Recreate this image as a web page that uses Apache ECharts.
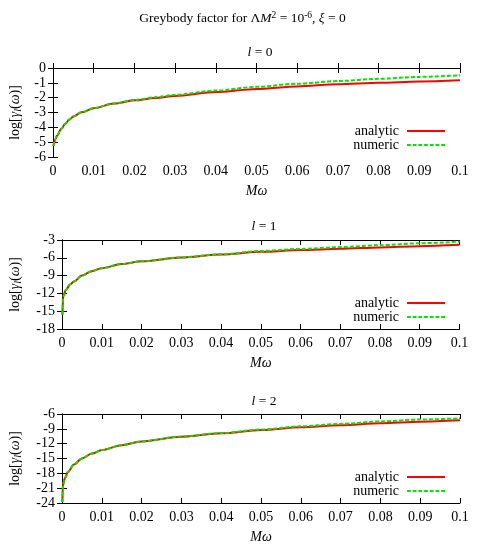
<!DOCTYPE html>
<html>
<head>
<meta charset="utf-8">
<script src="https://cdn.jsdelivr.net/npm/echarts@6/dist/echarts.min.js"></script>
<style>
  html, body { margin: 0; padding: 0; background: #fff; }
  #chart { width: 485px; height: 546px; }
</style>
</head>
<body>
<div id="chart"></div>
<script>
// values
const xTicks = [0, 0.01, 0.02, 0.03, 0.04, 0.05, 0.06, 0.07, 0.08, 0.09, 0.1];

// l = 0
const xL0 = [0.0001, 0.0005, 0.001, 0.002, 0.003, 0.004, 0.005, 0.007, 0.01, 0.015, 0.02, 0.025, 0.03, 0.04, 0.05, 0.06, 0.07, 0.08, 0.09, 0.1];
const analyticL0 = [-5.25, -4.85, -4.55, -4.12, -3.76, -3.48, -3.27, -2.99, -2.71, -2.4, -2.18, -2.02, -1.88, -1.62, -1.41, -1.24, -1.1, -1.0, -0.91, -0.83];
const numericL0 = [-5.25, -4.85, -4.55, -4.12, -3.76, -3.48, -3.27, -2.99, -2.71, -2.39, -2.16, -1.97, -1.81, -1.52, -1.27, -1.06, -0.88, -0.73, -0.6, -0.49];

// l = 1
const xL1 = [0.0001, 0.0003, 0.001, 0.002, 0.003, 0.005, 0.0075, 0.01, 0.015, 0.02, 0.03, 0.04, 0.05, 0.06, 0.07, 0.08, 0.09, 0.1];
const analyticL1 = [-15.6, -12.5, -11.4, -10.5, -10.0, -9.0, -8.25, -7.75, -7.05, -6.6, -5.95, -5.45, -5.0, -4.7, -4.48, -4.25, -4.04, -3.82];
const numericL1 = [-15.6, -12.5, -11.4, -10.5, -10.0, -9.0, -8.25, -7.75, -7.05, -6.6, -5.93, -5.4, -4.85, -4.5, -4.2, -3.88, -3.55, -3.28];

// l = 2
const xL2 = [0.0001, 0.0002, 0.0007, 0.0015, 0.003, 0.005, 0.0075, 0.01, 0.015, 0.02, 0.03, 0.04, 0.05, 0.06, 0.07, 0.08, 0.09, 0.1];
const analyticL2 = [-23.8, -20.5, -19.0, -17.7, -16.2, -15.0, -14.0, -13.3, -12.3, -11.55, -10.6, -9.9, -9.25, -8.7, -8.25, -7.85, -7.55, -7.28];
const numericL2 = [-23.8, -20.5, -19.0, -17.7, -16.2, -15.0, -14.0, -13.3, -12.3, -11.55, -10.55, -9.85, -9.15, -8.5, -8.0, -7.5, -7.12, -6.88];

const panels = [
  { l: '0', x: xL0, a: analyticL0, n: numericL0, yMin: -6, yMax: 0, yStep: 1,
    grid: { left: 50, top: 68, width: 410, height: 89 }, titleTop: 40, legendTop: 124, nameGap: 30 },
  { l: '1', x: xL1, a: analyticL1, n: numericL1, yMin: -18, yMax: -3, yStep: 3,
    grid: { left: 58.5, top: 240, width: 401, height: 89 }, titleTop: 214, legendTop: 296, nameGap: 39 },
  { l: '2', x: xL2, a: analyticL2, n: numericL2, yMin: -24, yMax: -6, yStep: 3,
    grid: { left: 58, top: 414, width: 402, height: 89 }, titleTop: 389, legendTop: 470, nameGap: 39 }
];

const FONT = '"Liberation Serif", "DejaVu Serif", serif';
const RED = '#ff0000';
const GREEN = '#00e600';

// legend keys: a solid bar and a row of dashes
const solidIcon = 'path://M0,0h40v2h-40z';
const dashIcon = 'path://M0,0h4v2h-4z M6,0h4v2h-4z M12,0h4v2h-4z M18,0h4v2h-4z M24,0h4v2h-4z M30,0h4v2h-4z M36,0h4v2h-4z';

const rich = {
  n: { fontFamily: FONT, fontSize: 13.5, color: '#000', fontWeight: 'normal' },
  i: { fontFamily: FONT, fontSize: 13.5, color: '#000', fontWeight: 'normal', fontStyle: 'italic' },
  big: { fontFamily: FONT, fontSize: 14, color: '#000', fontWeight: 'normal' },
  bigi: { fontFamily: FONT, fontSize: 14, color: '#000', fontWeight: 'normal', fontStyle: 'italic' },
  sup: { fontFamily: FONT, fontSize: 9.5, color: '#000', fontWeight: 'normal', verticalAlign: 'top', padding: [0, 0, 7, 0] },
  sub: { fontFamily: FONT, fontSize: 10, color: '#000', fontWeight: 'normal', fontStyle: 'italic', padding: [6, 0, 0, 0] }
};

const tickStyle = { inside: true, length: 5, lineStyle: { color: '#000', width: 1 } };
const lineStyle = { lineStyle: { color: '#000', width: 1 } };

const option = {
  animation: false,
  backgroundColor: '#fff',
  title: [],
  legend: [],
  grid: [],
  xAxis: [],
  yAxis: [],
  series: []
};

option.title.push({
  text: '{n|Greybody factor for Λ}{i|M}{sup|2}{n| = 10}{sup|-6}{n|, }{i|ξ}{n| = 0}',
  left: 'center',
  top: 5,
  textStyle: { fontWeight: 'normal', rich: rich }
});

panels.forEach((p, k) => {
  option.grid.push(p.grid);

  option.title.push({
    text: '{i|l}{n| = ' + p.l + '}',
    left: p.grid.left + p.grid.width / 2,
    textAlign: 'center',
    top: p.titleTop,
    textStyle: { fontWeight: 'normal', rich: rich }
  });

  // bottom axis with labels, top mirror axis with ticks only
  option.xAxis.push({
    gridIndex: k, type: 'value', min: 0, max: 0.1, interval: 0.01,
    position: 'bottom',
    name: '{bigi|Mω}', nameLocation: 'middle', nameGap: 27,
    nameTextStyle: { rich: rich },
    axisLine: lineStyle, axisTick: tickStyle, splitLine: { show: false },
    axisLabel: { fontFamily: FONT, fontSize: 14, color: '#000', margin: 7 }
  });
  option.xAxis.push({
    gridIndex: k, type: 'value', min: 0, max: 0.1, interval: 0.01,
    position: 'top',
    axisLine: lineStyle, axisTick: tickStyle, splitLine: { show: false },
    axisLabel: { show: false }
  });

  option.yAxis.push({
    gridIndex: k, type: 'value', min: p.yMin, max: p.yMax, interval: p.yStep,
    position: 'left',
    name: '{big|log[}{bigi|γ}{sub|l}{big|(}{bigi|ω}{big|)]}', nameLocation: 'middle', nameGap: p.nameGap,
    nameTextStyle: { rich: rich },
    axisLine: lineStyle, axisTick: tickStyle, splitLine: { show: false },
    axisLabel: { fontFamily: FONT, fontSize: 14, color: '#000', margin: 7 }
  });
  option.yAxis.push({
    gridIndex: k, type: 'value', min: p.yMin, max: p.yMax, interval: p.yStep,
    position: 'right',
    axisLine: lineStyle, axisTick: tickStyle, splitLine: { show: false },
    axisLabel: { show: false }
  });

  option.series.push({
    name: 'analytic', type: 'line',
    xAxisIndex: 2 * k, yAxisIndex: 2 * k,
    data: p.x.map((v, i) => [v, p.a[i]]),
    showSymbol: false, symbol: 'none', smooth: 0.3, smoothMonotone: 'x',
    lineStyle: { color: RED, width: 2 }, itemStyle: { color: RED }
  });
  option.series.push({
    name: 'numeric', type: 'line',
    xAxisIndex: 2 * k, yAxisIndex: 2 * k,
    data: p.x.map((v, i) => [v, p.n[i]]),
    showSymbol: false, symbol: 'none', smooth: 0.3, smoothMonotone: 'x',
    lineStyle: { color: GREEN, width: 2, type: [4, 2] }, itemStyle: { color: GREEN }
  });

  option.legend.push({
    data: [
      { name: 'analytic', icon: solidIcon, itemStyle: { color: RED } },
      { name: 'numeric', icon: dashIcon, itemStyle: { color: GREEN } }
    ],
    orient: 'vertical',
    align: 'right',
    right: 40,
    top: p.legendTop,
    padding: 0,
    itemWidth: 38,
    itemHeight: 2,
    itemGap: 0,
    selectedMode: false,
    textStyle: { fontFamily: FONT, fontSize: 14, color: '#000', lineHeight: 13.5, padding: [0, 3, 0, 0] }
  });
});

const chart = echarts.init(document.getElementById('chart'));
chart.setOption(option);
</script>
</body>
</html>
